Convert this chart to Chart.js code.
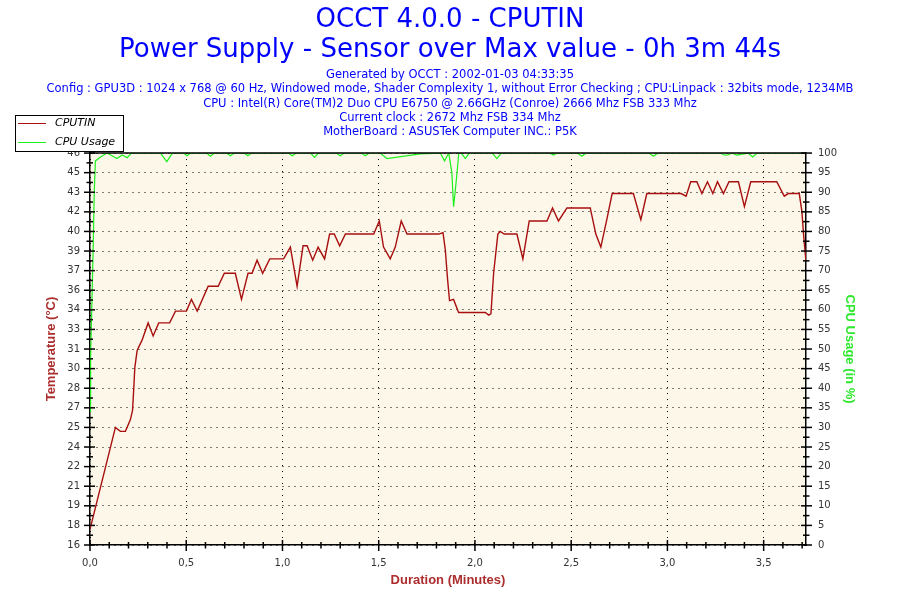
<!DOCTYPE html>
<html>
<head>
<meta charset="utf-8">
<script src="https://cdn.jsdelivr.net/npm/chart.js@4.4.1/dist/chart.umd.min.js"></script>
<style>
  html, body { margin: 0; padding: 0; background: #fff; }
</style>
</head>
<body>
<canvas id="chart" width="900" height="600"></canvas>
<script>
const titleLines = ['OCCT 4.0.0 - CPUTIN', 'Power Supply - Sensor over Max value - 0h 3m 44s'];
const infoLines = [
  'Generated by OCCT : 2002-01-03 04:33:35',
  'Config : GPU3D : 1024 x 768 @ 60 Hz, Windowed mode, Shader Complexity 1, without Error Checking ; CPU:Linpack : 32bits mode, 1234MB',
  'CPU : Intel(R) Core(TM)2 Duo CPU E6750 @ 2.66GHz (Conroe) 2666 Mhz FSB 333 Mhz',
  'Current clock : 2672 Mhz FSB 334 Mhz',
  'MotherBoard : ASUSTeK Computer INC.: P5K'
];

// duration in minutes / temperature in C
const tempTime = [
  0, 0.132, 0.158, 0.184, 0.21, 0.221, 0.227, 0.233, 0.245, 0.271,
  0.302, 0.328, 0.357, 0.414, 0.444, 0.501, 0.527, 0.557, 0.614, 0.666,
  0.698, 0.755, 0.787, 0.821, 0.842, 0.868, 0.897, 0.934, 1.006, 1.041,
  1.076, 1.107, 1.128, 1.157, 1.185, 1.219, 1.245, 1.269, 1.297, 1.327,
  1.474, 1.503, 1.525, 1.56, 1.586, 1.617, 1.647, 1.811, 1.834, 1.846,
  1.858, 1.868, 1.889, 1.915, 2.054, 2.071, 2.083, 2.097, 2.119, 2.131,
  2.152, 2.218, 2.249, 2.282, 2.374, 2.403, 2.434, 2.478, 2.599, 2.628,
  2.654, 2.685, 2.713, 2.823, 2.862, 2.893, 3.071, 3.097, 3.121, 3.153,
  3.179, 3.208, 3.236, 3.26, 3.291, 3.32, 3.369, 3.4, 3.433, 3.568,
  3.607, 3.628, 3.685, 3.698, 3.71, 3.72
];
const tempValue = [
  17.2, 25.0, 24.7, 24.7, 25.6, 26.3, 27.9, 29.6, 30.9, 31.7,
  33.0, 32.0, 33.0, 33.0, 33.9, 33.9, 34.8, 33.9, 35.8, 35.8,
  36.8, 36.8, 34.8, 36.8, 36.8, 37.8, 36.8, 37.9, 37.9, 38.8,
  35.8, 38.9, 38.9, 37.8, 38.8, 37.9, 39.8, 39.8, 38.9, 39.8,
  39.8, 40.8, 38.8, 37.9, 38.8, 40.8, 39.8, 39.8, 39.9, 38.6,
  36.3, 34.7, 34.8, 33.8, 33.8, 33.6, 33.7, 36.8, 39.8, 40.0,
  39.8, 39.8, 37.9, 40.8, 40.8, 41.8, 40.8, 41.8, 41.8, 39.8,
  38.8, 40.9, 42.9, 42.9, 40.9, 42.9, 42.9, 42.7, 43.8, 43.8,
  42.9, 43.8, 42.9, 43.8, 42.9, 43.8, 43.8, 41.9, 43.8, 43.8,
  42.7, 42.9, 42.9, 41.6, 39.3, 37.7
];

// duration in minutes / CPU usage in %
const cpuTime = [
  0, 0.003, 0.01, 0.017, 0.022, 0.028, 0.055, 0.089, 0.14, 0.167,
  0.193, 0.215, 0.366, 0.399, 0.428, 0.485, 0.505, 0.522, 0.605, 0.626,
  0.646, 0.709, 0.729, 0.75, 0.802, 0.82, 0.839, 1.031, 1.051, 1.072,
  1.145, 1.167, 1.186, 1.28, 1.3, 1.321, 1.41, 1.43, 1.451, 1.507,
  1.543, 1.716, 1.82, 1.842, 1.864, 1.88, 1.889, 1.898, 1.907, 1.916,
  1.929, 1.95, 1.971, 2.09, 2.114, 2.137, 2.386, 2.408, 2.427, 2.531,
  2.556, 2.578, 2.905, 2.927, 2.952, 3.274, 3.294, 3.315, 3.336, 3.36,
  3.419, 3.443, 3.466, 3.72
];
const cpuValue = [
  34, 48, 62, 77, 90, 98, 99, 100, 98.6, 99.5,
  98.8, 100, 100, 97.8, 100, 100, 99.3, 100, 100, 99.2,
  100, 100, 99.3, 100, 100, 99.3, 100, 100, 99.3, 100,
  100, 98.9, 100, 100, 99.3, 100, 100, 99.3, 100, 100,
  98.6, 99.8, 100, 98.0, 100, 95, 86.3, 90.5, 95, 100,
  100, 98.6, 100, 100, 98.6, 100, 100, 99.5, 100, 100,
  99.2, 100, 100, 99.2, 100, 100, 99.5, 99.5, 100, 99.5,
  100, 99, 100, 100
];

const TEMP_MIN = 16, TEMP_MAX = 46, TEMP_STEP = 1.5;
const CPU_MIN = 0, CPU_MAX = 100, CPU_STEP = 5;
const DUR_MAX = 3.72, DUR_STEP = 0.5;

const near = (a, b) => Math.abs(a - b) < 1e-6;
const majorTemp = v => near((v - TEMP_MIN) / TEMP_STEP, Math.round((v - TEMP_MIN) / TEMP_STEP));
const majorCpu = v => near(v / CPU_STEP, Math.round(v / CPU_STEP));
const majorDur = v => near(v / DUR_STEP, Math.round(v / DUR_STEP));

const tickFont = {family: 'DejaVu Sans', size: 10};
const axisTitleFont = {family: 'Liberation Sans', size: 13, weight: 'bold', lineHeight: 1.2};

const frame = {
  id: 'frame',
  beforeDraw(chart) {
    const {ctx, chartArea: a} = chart;
    ctx.save();
    ctx.fillStyle = '#fcf7e9';
    ctx.fillRect(a.left, a.top, a.right - a.left, a.bottom - a.top);
    ctx.restore();
  },
  afterDraw(chart) {
    const {ctx, chartArea: a, scales} = chart;
    ctx.save();
    ctx.strokeStyle = '#000';
    ctx.lineWidth = 1.5;
    ctx.beginPath();
    ctx.moveTo(a.left, a.top);
    ctx.lineTo(a.right, a.top);
    ctx.stroke();

    // tick marks cross the axis line
    const marks = (scale, isMajor, side) => {
      scale.ticks.forEach(t => {
        const p = scale.getPixelForValue(t.value);
        const big = isMajor(t.value);
        const out = big ? 6 : 3.5, inn = big ? 5 : 3;
        ctx.beginPath();
        if (side === 'left') {
          ctx.moveTo(scale.right - out, p); ctx.lineTo(scale.right + inn, p);
        } else if (side === 'right') {
          ctx.moveTo(scale.left - inn, p); ctx.lineTo(scale.left + out, p);
        } else {
          ctx.moveTo(p, scale.top - inn); ctx.lineTo(p, scale.top + out);
        }
        ctx.stroke();
      });
    };
    marks(scales.y, majorTemp, 'left');
    marks(scales.y1, majorCpu, 'right');
    marks(scales.x, majorDur, 'bottom');

    // legend box
    const bx = 15.5, by = 115.5, bw = 108, bh = 36;
    ctx.fillStyle = '#fff';
    ctx.fillRect(bx, by, bw, bh);
    ctx.lineWidth = 1;
    ctx.strokeRect(bx, by, bw, bh);
    ctx.font = 'italic 11px "DejaVu Sans"';
    ctx.textBaseline = 'middle';
    chart.data.datasets.forEach((ds, i) => {
      const y = 123.5 + i * 19;
      ctx.strokeStyle = ds.borderColor;
      ctx.beginPath(); ctx.moveTo(18, y); ctx.lineTo(46, y); ctx.stroke();
      ctx.fillStyle = '#000';
      ctx.fillText(ds.label, 55, y);
    });
    ctx.restore();
  }
};

new Chart(document.getElementById('chart'), {
  type: 'line',
  data: {
    datasets: [
      {
        label: 'CPUTIN',
        data: tempTime.map((t, i) => ({x: t, y: tempValue[i]})),
        yAxisID: 'y',
        borderColor: '#a80f0f',
        borderWidth: 1.4,
        pointRadius: 0,
        tension: 0
      },
      {
        label: 'CPU Usage',
        data: cpuTime.map((t, i) => ({x: t, y: cpuValue[i]})),
        yAxisID: 'y1',
        borderColor: '#1cf01c',
        borderWidth: 1.2,
        pointRadius: 0,
        tension: 0
      }
    ]
  },
  options: {
    responsive: false,
    animation: false,
    events: [],
    layout: {padding: 0},
    plugins: {
      legend: {display: false},
      tooltip: {enabled: false},
      title: {
        display: true,
        text: titleLines,
        color: '#0000ff',
        font: {family: 'DejaVu Sans', size: 26, weight: 'normal', lineHeight: 1.154},
        padding: {top: 5, bottom: 0}
      },
      subtitle: {
        display: true,
        text: infoLines,
        color: '#0000ff',
        font: {family: 'DejaVu Sans', size: 11.5, lineHeight: 1.24},
        padding: {top: 3, bottom: 13.75}
      }
    },
    scales: {
      x: {
        type: 'linear',
        min: 0,
        max: DUR_MAX,
        afterFit: s => { s.height = 55; },
        border: {color: '#000', width: 1.5, dash: [1, 5]},
        grid: {
          drawTicks: false,
          color: c => majorDur(c.tick.value) ? '#000' : 'rgba(0,0,0,0)'
        },
        ticks: {
          stepSize: 0.1,
          includeBounds: false,
          autoSkip: false,
          maxRotation: 0,
          padding: 12,
          color: '#333',
          font: tickFont,
          callback: v => majorDur(v) ? v.toFixed(1).replace('.', ',') : ''
        },
        title: {display: true, text: 'Duration (Minutes)', color: '#ac2d2d', font: axisTitleFont, padding: {bottom: 12}}
      },
      y: {
        position: 'left',
        min: TEMP_MIN,
        max: TEMP_MAX,
        afterFit: s => { s.width = 90; },
        border: {color: '#000', width: 1.5, dash: [1, 5]},
        grid: {
          drawTicks: false,
          color: c => majorTemp(c.tick.value) ? '#000' : 'rgba(0,0,0,0)'
        },
        ticks: {
          stepSize: TEMP_STEP / 2,
          autoSkip: false,
          padding: 10,
          color: '#333',
          font: tickFont,
          callback: v => majorTemp(v) ? String(Math.round(v)) : ''
        },
        title: {display: true, text: 'Temperature (°C)', color: '#ac2d2d', font: axisTitleFont, padding: {top: 44}}
      },
      y1: {
        position: 'right',
        min: CPU_MIN,
        max: CPU_MAX,
        afterFit: s => { s.width = 94; },
        border: {color: '#000', width: 1.5},
        grid: {drawOnChartArea: false, drawTicks: false},
        ticks: {
          stepSize: CPU_STEP / 2,
          autoSkip: false,
          padding: 12,
          color: '#333',
          font: tickFont,
          callback: v => majorCpu(v) ? String(v) : ''
        },
        title: {display: true, text: 'CPU Usage (in %)', color: '#2ee82e', font: axisTitleFont, padding: {top: 43}}
      }
    }
  },
  plugins: [frame]
});
</script>
</body>
</html>
